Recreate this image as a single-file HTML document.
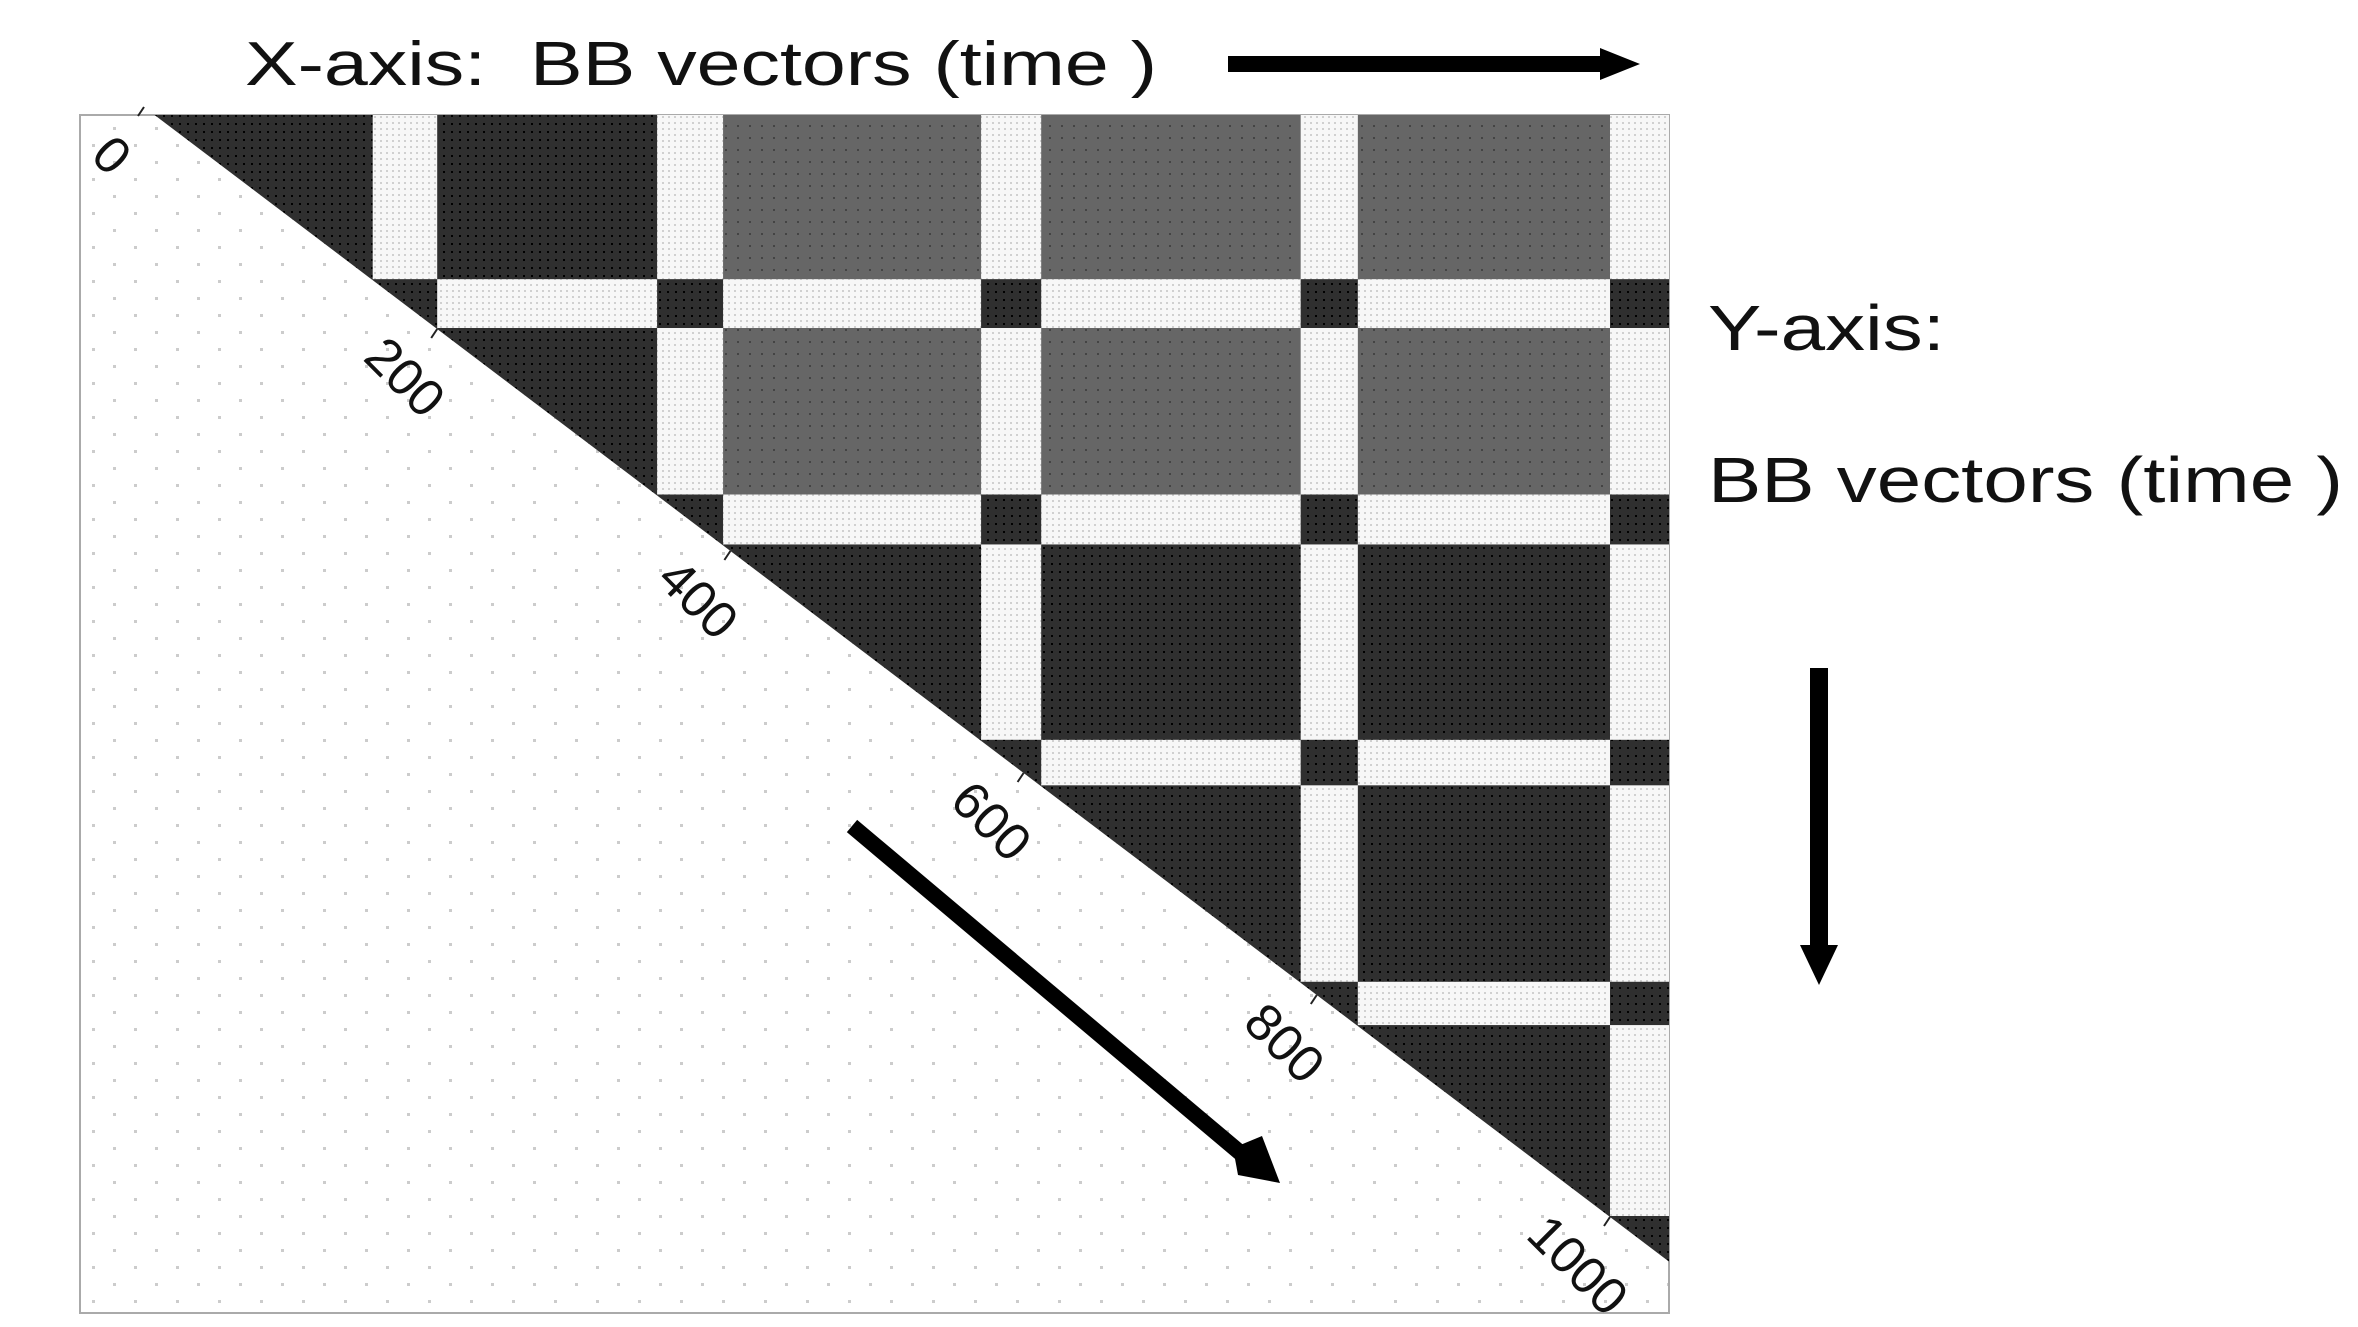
<!DOCTYPE html>
<html><head><meta charset="utf-8"><style>
html,body{margin:0;padding:0;background:#fff;width:2358px;height:1327px;overflow:hidden}
text{font-family:"Liberation Sans",sans-serif;fill:#111}
</style></head><body>
<svg id="chart" width="2358" height="1327" viewBox="0 0 2358 1327" xmlns="http://www.w3.org/2000/svg">
<defs>
<pattern id="pDark" width="8" height="8" patternUnits="userSpaceOnUse"><rect width="8" height="8" fill="#2f2f2f"/><rect x="3" y="3" width="2" height="2" fill="#000"/></pattern>
<pattern id="pGray" width="12" height="12" patternUnits="userSpaceOnUse"><rect width="12" height="12" fill="#666"/><rect x="5" y="5" width="2" height="2" fill="#444"/></pattern>
<pattern id="pWhite" width="6" height="6" patternUnits="userSpaceOnUse"><rect width="6" height="6" fill="#f7f7f7"/><rect x="2" y="2" width="2" height="2" fill="#d0d0d0"/></pattern>
<pattern id="pBg" width="42" height="34" patternUnits="userSpaceOnUse"><rect width="42" height="34" fill="#fff"/><rect x="8" y="8" width="3" height="3" fill="#ccc"/><rect x="29" y="25" width="3" height="3" fill="#ccc"/></pattern>
<clipPath id="upper"><polygon id="upperPoly" points="0,0 0,0 0,0"/></clipPath>
</defs>
<rect x="80" y="115" width="1589" height="1198" fill="url(#pBg)" stroke="#aaa" stroke-width="2"/>
<g id="cells" clip-path="url(#upper)"></g>
<g id="ticks"></g>
<text x="245" y="85" font-size="62" textLength="912" lengthAdjust="spacingAndGlyphs" xml:space="preserve">X-axis:  BB vectors (time )</text>
<text x="1708" y="350" font-size="64" textLength="237" lengthAdjust="spacingAndGlyphs">Y-axis:</text>
<text x="1708" y="502" font-size="64" textLength="635" lengthAdjust="spacingAndGlyphs">BB vectors (time )</text>
<g><rect x="1228" y="56" width="380" height="16" fill="#000"/><polygon points="1600,48 1640,64 1600,80" fill="#000"/></g>
<g><rect x="1810" y="668" width="18" height="285" fill="#000"/><polygon points="1800,945 1838,945 1819,985" fill="#000"/></g>
<g><line x1="852" y1="826" x2="1250" y2="1161" stroke="#000" stroke-width="16"/><polygon points="1233,1148 1262,1136 1280,1183 1238,1175" fill="#000"/></g>
</svg>
<script>
// band boundaries (index units) and segment groups
const bands = [[156,200],[350,395],[571,612],[789,828],[1000,1040]];
const segGroups = [0,0,1,1,1];
const tickValues = [0,200,400,600,800,1000];
const tickLabels = ["0","200","400","600","800","1000"];
const X0=144,KX=1.466,Y0=107,KY=1.11;
const sx=i=>X0+i*KX, sy=i=>Y0+i*KY;
const NS="http://www.w3.org/2000/svg";
const plotTop=115,plotRight=1669;
const iTop=(plotTop-Y0)/KY, jR=(plotRight-X0)/KX;
document.getElementById('upperPoly').setAttribute('points',
 `${sx(iTop)},${plotTop} ${plotRight},${plotTop} ${plotRight},${sy(jR)}`);
const segs=[]; let segStart=0;
bands.forEach((b,k)=>{segs.push({a:segStart,b:b[0],type:'seg',g:segGroups[k]});segs.push({a:b[0],b:b[1],type:'band'});segStart=b[1];});
const cells=document.getElementById('cells');
segs.forEach((r)=>{segs.forEach((c)=>{
  if(c.b<=r.a) return;
  let fill;
  if(r.type==='band'&&c.type==='band') fill='url(#pDark)';
  else if(r.type==='band'||c.type==='band') fill='url(#pWhite)';
  else fill=(r.g===c.g)?'url(#pDark)':'url(#pGray)';
  const el=document.createElementNS(NS,'rect');
  
  
  el.setAttribute('x',sx(c.a));el.setAttribute('y',sy(r.a)-1);
  el.setAttribute('width',sx(c.b)-sx(c.a)+0.5);el.setAttribute('height',sy(r.b)-sy(r.a)+1);
  el.setAttribute('fill',fill);
  cells.appendChild(el);
});});
const tg=document.getElementById('ticks');
tickValues.forEach((v,k)=>{
  const x=sx(v),y=sy(v);
  const ln=document.createElementNS(NS,'line');
  
  
  ln.setAttribute('x1',x);ln.setAttribute('y1',y);ln.setAttribute('x2',x-6);ln.setAttribute('y2',y+9);
  ln.setAttribute('stroke','#222');ln.setAttribute('stroke-width','2');
  tg.appendChild(ln);
  const t=document.createElementNS(NS,'text');
  
  
  const cx=x-32,cy=y+48;
  t.setAttribute('x',cx);t.setAttribute('y',cy+18);
  t.setAttribute('font-size','52');t.setAttribute('text-anchor','middle');
  t.setAttribute('transform',`rotate(45 ${cx} ${cy})`);
  t.textContent=tickLabels[k];
  tg.appendChild(t);
});
</script>
</body></html>
